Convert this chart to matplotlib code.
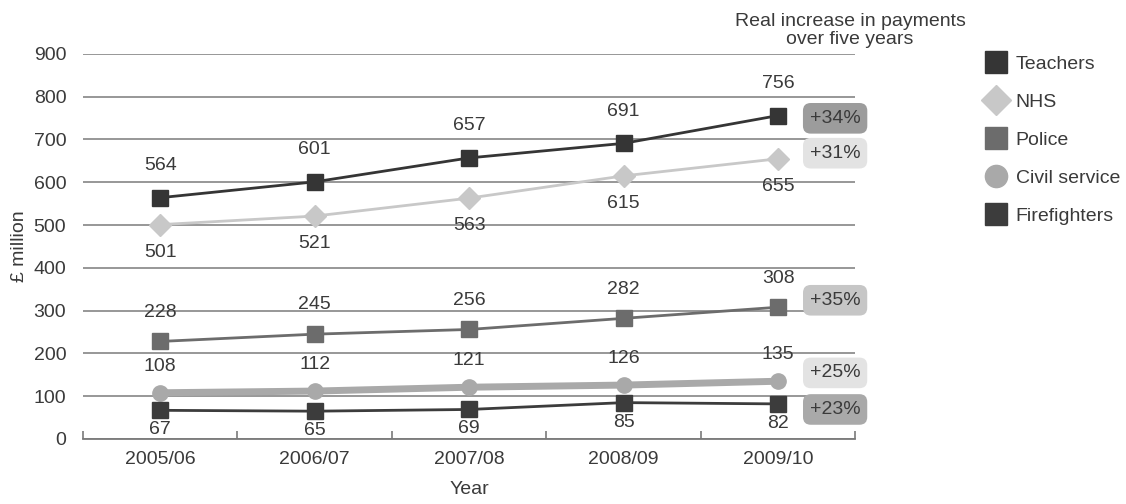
import matplotlib.pyplot as plt
from matplotlib.lines import Line2D

plt.rcParams['font.family'] = ['Liberation Sans', 'DejaVu Sans']

years = ['2005/06', '2006/07', '2007/08', '2008/09', '2009/10']
teachers = [564, 601, 657, 691, 756]
nhs = [501, 521, 563, 615, 655]
police = [228, 245, 256, 282, 308]
civil = [108, 112, 121, 126, 135]
fire = [67, 65, 69, 85, 82]
increase = ['+34%', '+31%', '+35%', '+25%', '+23%']

txt = '#3a3a3a'
fs = 14
fig = plt.figure(figsize=(11.26, 5.04), dpi=100)
ax = fig.add_axes([0.0737, 0.129, 0.686, 0.764])
x = range(len(years))

# (values, name, colour, marker, linewidth, label offset, badge colour, badge shift)
series = [
    (teachers, 'Teachers', '#353535', 's', 2.0, 23, '#9c9c9c', -2),
    (nhs, 'NHS', '#c8c8c8', 'D', 2.0, -20, '#e3e3e3', 4),
    (police, 'Police', '#6c6c6c', 's', 2.0, 21, '#c6c6c6', 5),
    (civil, 'Civil service', '#a9a9a9', 'o', 5.0, 19, '#e3e3e3', 6),
    (fire, 'Firefighters', '#3c3c3c', 's', 2.0, -14, '#a9a9a9', -4),
]

for k, (vals, name, col, mk, lw, off, bcol, bshift) in enumerate(series):
    ax.plot(x, vals, color=col, marker=mk, markersize=11, linewidth=lw, zorder=3)
    for i, v in enumerate(vals):
        ax.annotate(str(v), (i, v), xytext=(0, off), textcoords='offset points',
                    ha='center', va='center', fontsize=fs, color=txt)
    ax.annotate(increase[k], (len(vals) - 1, vals[-1]), xytext=(41, bshift),
                textcoords='offset points', ha='center', va='center',
                fontsize=fs, color=txt, zorder=4,
                bbox=dict(boxstyle='round,pad=0.35,rounding_size=0.4', fc=bcol, ec='none'))

ax.set_xlim(-0.5, 4.5)
ax.set_ylim(0, 900)
ax.set_yticks(range(0, 1000, 100))
ax.yaxis.grid(True, color='#7a7a7a', linewidth=1.1)
ax.set_axisbelow(True)
for s in ['top', 'right', 'left']:
    ax.spines[s].set_visible(False)
ax.spines['bottom'].set_color('#7a7a7a')
ax.spines['bottom'].set_linewidth(1.3)
ax.set_xticks(x)
ax.set_xticklabels(years)
ax.set_xticks([i - 0.5 for i in range(6)], minor=True)
ax.tick_params(axis='x', which='major', length=0, pad=9, labelsize=fs, labelcolor=txt)
ax.tick_params(axis='x', which='minor', direction='in', length=6, color='#7a7a7a', width=1.2)
ax.tick_params(axis='y', length=0, pad=12, labelsize=fs, labelcolor=txt)
ax.set_ylabel('£ million', fontsize=fs, color=txt, labelpad=4)
ax.set_xlabel('Year', fontsize=fs, color=txt, labelpad=9)

fig.text(0.755, 0.905, 'Real increase in payments\nover five years', ha='center',
         va='bottom', fontsize=fs, color=txt, linespacing=1.05)

handles = [Line2D([], [], linestyle='none', marker=s[3], color=s[2],
                  markersize=16 if s[3] != 'D' else 15) for s in series]
fig.legend(handles, [s[1] for s in series], loc='upper left',
           bbox_to_anchor=(0.859, 0.925), frameon=False, fontsize=fs,
           labelspacing=1.05, handletextpad=0.4, handlelength=1.2, labelcolor=txt)

fig.savefig('out.png', dpi=100)
